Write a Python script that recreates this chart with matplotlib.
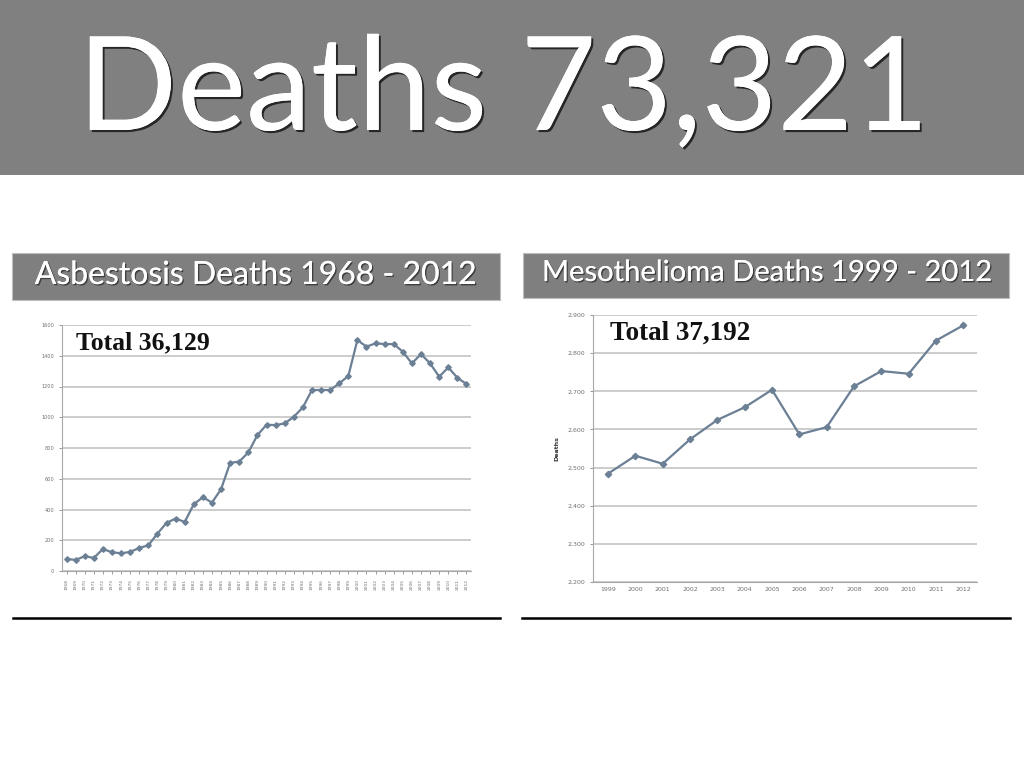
import matplotlib
matplotlib.use("Agg")
import matplotlib.pyplot as plt
import matplotlib.patheffects as pe
from matplotlib.patches import Rectangle
from matplotlib.lines import Line2D
from matplotlib.ticker import FuncFormatter

# ---- data ----
title_text = "Deaths 73,321"
left_title = "Asbestosis Deaths 1968 - 2012"
right_title = "Mesothelioma Deaths 1999 - 2012"
left_total = "Total 36,129"
right_total = "Total 37,192"

asb_years = list(range(1968, 2013))
asb_deaths = [78, 72, 96, 85, 143, 122, 115, 124, 150, 167,
              243, 313, 341, 319, 434, 480, 445, 532, 703, 712,
              771, 884, 951, 949, 960, 1003, 1064, 1177, 1177, 1177,
              1220, 1268, 1502, 1459, 1481, 1476, 1476, 1426, 1350, 1411,
              1350, 1264, 1324, 1257, 1216]

meso_years = list(range(1999, 2013))
meso_deaths = [2484, 2531, 2510, 2574, 2625, 2658, 2704, 2587, 2606, 2713,
               2753, 2746, 2833, 2873]

asb_yticks = [0, 200, 400, 600, 800, 1000, 1200, 1400, 1600]
meso_yticks = [2200, 2300, 2400, 2500, 2600, 2700, 2800, 2900]

# ---- figure ----
W, H = 1024, 768
fig = plt.figure(figsize=(W / 100, H / 100), dpi=100)
fig.patch.set_facecolor("white")


def box(x0, y0, x1, y1):
    """pixel box (top-left origin) -> figure fraction rect"""
    return [x0 / W, 1 - y1 / H, (x1 - x0) / W, (y1 - y0) / H]


def rect_px(x0, y0, x1, y1, **kw):
    b = box(x0, y0, x1, y1)
    fig.patches.append(Rectangle((b[0], b[1]), b[2], b[3], transform=fig.transFigure, **kw))


# header band
rect_px(0, 0, W, 175, facecolor="#808080", edgecolor="none")
shadow = [pe.withSimplePatchShadow(offset=(1.5, -1.5), shadow_rgbFace="black", alpha=0.7), pe.Normal()]
fig.text(503 / W, 1 - 130 / H, title_text, color="white", fontsize=94, family="Lato",
         ha="center", va="baseline", path_effects=shadow)

# subtitle bars
rect_px(12, 253, 500, 300, facecolor="#7f7f7f", edgecolor="#bdbdbd", linewidth=0.8)
rect_px(523, 253, 1009, 298, facecolor="#7f7f7f", edgecolor="#bdbdbd", linewidth=0.8)
sub_shadow = [pe.withSimplePatchShadow(offset=(1, -1), shadow_rgbFace="black", alpha=0.5), pe.Normal()]
fig.text(256 / W, 1 - 275 / H, left_title, color="white", fontsize=23, family="Lato",
         ha="center", va="center", path_effects=sub_shadow)
fig.text(767 / W, 1 - 273 / H, right_title, color="white", fontsize=21, family="Lato",
         ha="center", va="center", path_effects=sub_shadow)

# bottom rules
for x0, x1 in [(13, 500), (522, 1010)]:
    fig.add_artist(Line2D([x0 / W, x1 / W], [1 - 618 / H, 1 - 618 / H],
                          transform=fig.transFigure, color="black", linewidth=1.8))

line_color = "#6b7f95"
grid_color = "#c8c8c8"
tick_color = "#707070"


def style_axes(ax):
    ax.set_facecolor("white")
    for s in ["top", "right"]:
        ax.spines[s].set_visible(False)
    ax.spines["left"].set_color("#a8a8a8")
    ax.spines["bottom"].set_color("#a8a8a8")
    ax.yaxis.grid(True, color=grid_color, linewidth=1.3)
    ax.set_axisbelow(True)
    ax.tick_params(colors=tick_color, length=2, width=0.5)


# left chart
axL = fig.add_axes(box(62, 325, 471, 571))
style_axes(axL)
axL.plot(asb_years, asb_deaths, color=line_color, linewidth=1.6, marker="D", markersize=2.8)
axL.set_xlim(asb_years[0] - 0.5, asb_years[-1] + 0.5)
axL.set_ylim(0, 1600)
axL.set_yticks(asb_yticks)
axL.set_xticks(asb_years)
axL.set_xticklabels([str(y) for y in asb_years], rotation=90, fontsize=3.2)
axL.tick_params(axis="y", labelsize=3.6)
axL.text(14 / 409, 1 - 18 / 246, left_total, fontsize=18.5, fontweight="bold",
         family="Liberation Serif", transform=axL.transAxes, va="center", ha="left",
         color="#111111")

# right chart
axR = fig.add_axes(box(593, 315, 977, 582))
style_axes(axR)
axR.plot(meso_years, meso_deaths, color=line_color, linewidth=1.6, marker="D", markersize=3.2)
axR.set_xlim(meso_years[0] - 0.55, meso_years[-1] + 0.5)
axR.set_ylim(2200, 2900)
axR.set_yticks(meso_yticks)
axR.yaxis.set_major_formatter(FuncFormatter(lambda v, p: f"{int(v):,}"))
axR.set_xticks(meso_years)
axR.set_xticklabels([str(y) for y in meso_years], fontsize=4.5)
axR.tick_params(axis="y", labelsize=4.5)
axR.tick_params(axis="x", length=0)
axR.set_ylabel("Deaths", fontsize=4.5, fontweight="bold", color="#333333", labelpad=6)
axR.text(17 / 384, 1 - 18 / 267, right_total, fontsize=19.5, fontweight="bold",
         family="Liberation Serif", transform=axR.transAxes, va="center", ha="left",
         color="#111111")

fig.savefig("out.png", dpi=100, facecolor="white")
